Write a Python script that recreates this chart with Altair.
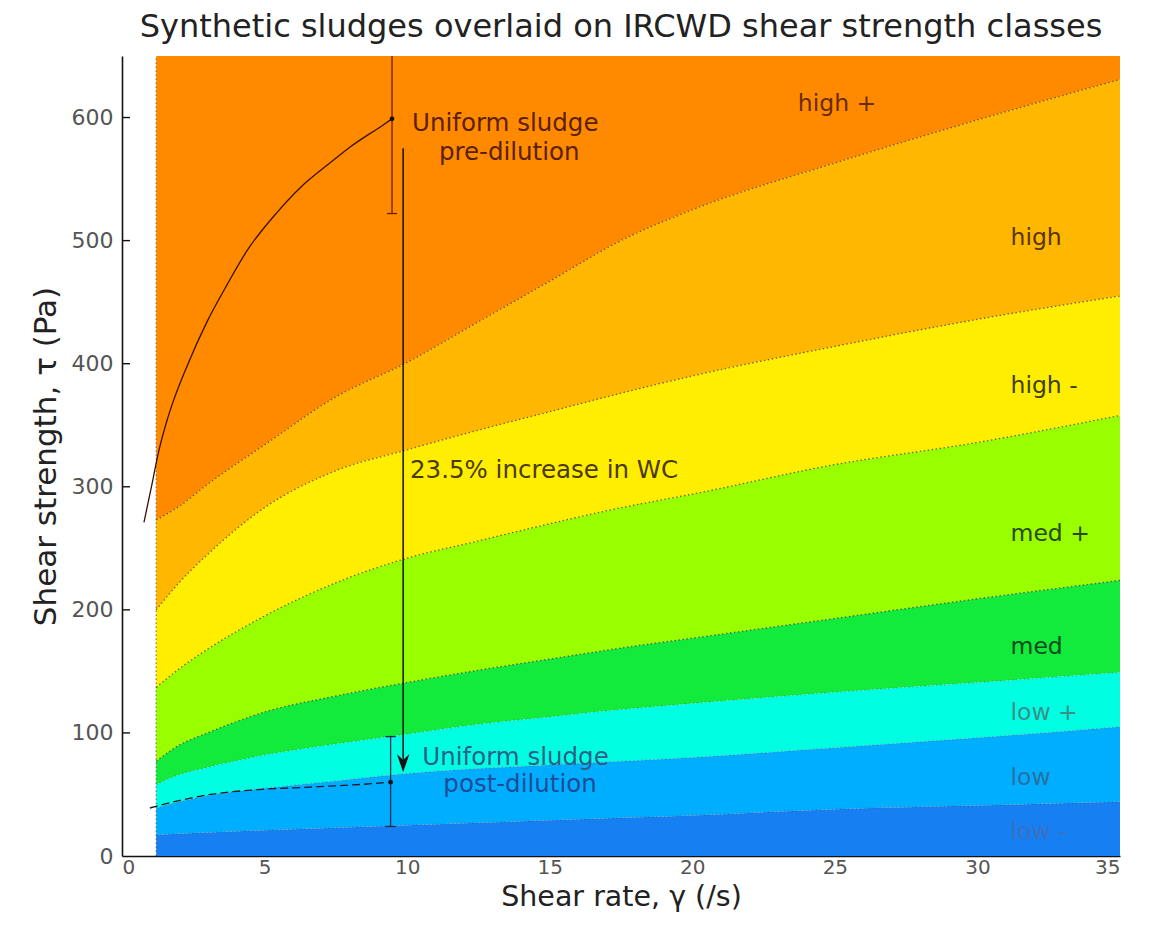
import altair as alt
import pandas as pd

# ---------------- data ----------------
gamma = [1.2, 2, 3, 5, 7.5, 10, 12.5, 15, 17.5, 20, 25, 30, 35]

b_highp_high = [273, 284, 302, 334, 373, 401, 434, 467, 500, 525, 563, 598, 631]
b_high_highm = [200, 222, 245, 283, 313, 330, 346, 361, 376, 390, 414, 436, 455]
b_highm_medp = [137, 152, 168, 195, 222, 242, 256, 270, 283, 294, 318, 336, 358]
b_medp_med = [77, 90, 100, 117, 130, 141, 151, 160, 169, 177, 193, 209, 224]
b_med_lowp = [58, 66, 72, 82, 91, 99, 107, 113, 119, 124, 133, 141, 149]
b_lowp_low = [39, 44, 49, 55, 61, 67, 71, 74, 77, 80, 88, 96, 105]
b_low_lowm = [17, 18, 19, 21, 23, 25, 27, 29, 31, 33, 38, 41, 44]

Y_MAX = 650
classes = ["high +", "high", "high -", "med +", "med", "low +", "low", "low -"]
class_colors = ["#FF8A00", "#FFB700", "#FFEE00", "#99FF00",
                "#12EA3C", "#00FFE2", "#00AEFF", "#1680F3"]

# class labels (right side)
label_x = [23.7, 31.16, 31.16, 31.16, 31.16, 31.16, 31.16, 31.16]
label_y = [611, 502, 382, 262, 170, 116, 63, 19.5]
label_col = ["#6a2a00", "#5a3500", "#404010", "#2a4a10",
             "#0e4a1e", "#3a8f8a", "#2a6fa0", "#3c6fc0"]

# pre-dilution sludge curve
pre_x = [0.77, 1.05, 1.26, 1.58, 1.79, 2.28, 2.98, 3.68, 4.39, 5.44, 6.25, 7.40, 8.0, 9.16, 9.47]
pre_y = [271, 302, 326, 354, 369, 398, 434, 464, 492, 523, 543, 565, 576, 594, 599]

# post-dilution sludge curve
post_x = [0.98, 2.0, 3.1, 4.8, 6.6, 8.9, 9.42]
post_y = [39, 45, 50, 54, 56, 59, 60]

# error bars (pre, post)
err_x = [9.47, 9.42]
err_lo = [522, 24]
err_hi = [650, 97]
err_col = ["#6a2000", "#1a2a50"]
cap_x = [9.47, 9.42, 9.42]
cap_y = [522, 24, 97]
cap_col = ["#6a2000", "#1a2a50", "#1a2a50"]
CAP = 0.18

# arrow
arrow_x = 9.86
arrow_top = 575
arrow_bottom = 78
arrow_head_y = 75.5

# annotations
ann_text = ["Uniform sludge", "pre-dilution", "Uniform sludge", "post-dilution"]
ann_x = [13.44, 13.58, 13.8, 13.96]
ann_y = [595, 571, 80, 58]
ann_col = ["#5a2000", "#5a2000", "#2a5f8a", "#1e4c96"]

wc_text = "23.5% increase in WC"
wc_x = 10.1
wc_y = 313

x_ticks = [0, 5, 10, 15, 20, 25, 30, 35]
y_ticks = [0, 100, 200, 300, 400, 500, 600]

FONT = "DejaVu Sans"

# ---------------- tables ----------------
bounds = [[Y_MAX] * len(gamma), b_highp_high, b_high_highm, b_highm_medp,
          b_medp_med, b_med_lowp, b_lowp_low, b_low_lowm, [0] * len(gamma)]
rows = []
for i, c in enumerate(classes):
    for j, g in enumerate(gamma):
        rows.append({"gamma": g, "hi": bounds[i][j], "lo": bounds[i + 1][j],
                     "cls": c, "k": i})
bands = pd.DataFrame(rows)

brow = []
for i in range(1, 8):
    for j, g in enumerate(gamma):
        brow.append({"gamma": g, "tau": bounds[i][j], "b": i,
                     "op": 0.75 if i <= 4 else 0.3})
bl = pd.DataFrame(brow)

xs = alt.X("gamma:Q", scale=alt.Scale(domain=[0, 35], nice=False, zero=False),
           axis=alt.Axis(values=x_ticks, title="Shear rate, γ (/s)", ticks=False,
                         grid=False, labelFontSize=20, labelColor="#555",
                         labelPadding=1, titleFontSize=28.5, titleFontWeight="normal",
                         titleColor="#222", titleBaseline="middle", titleY=40,
                         domainColor="#111", domainWidth=1.6,
                         labelFont=FONT, titleFont=FONT))
ys = alt.Y("lo:Q", scale=alt.Scale(domain=[0, Y_MAX], nice=False),
           axis=alt.Axis(values=y_ticks, title="Shear strength, τ (Pa)", ticks=False,
                         grid=False, labelFontSize=22, labelColor="#555",
                         labelPadding=9, titleFontSize=31, titleFontWeight="normal",
                         titleColor="#222", titleBaseline="middle", titleX=-76,
                         domainColor="#111", domainWidth=1.6,
                         labelFont=FONT, titleFont=FONT))

area = alt.Chart(bands).mark_area(interpolate="monotone").encode(
    x=xs, y=ys, y2="hi:Q",
    color=alt.Color("cls:N", scale=alt.Scale(domain=classes, range=class_colors), legend=None),
    detail="k:N",
)

blines = alt.Chart(bl).mark_line(interpolate="monotone", strokeDash=[1.5, 2.5],
                                  strokeWidth=1.3, color="#4a3a20").encode(
    x="gamma:Q", y="tau:Q", detail="b:N",
    opacity=alt.Opacity("op:Q", scale=None, legend=None),
)

edge = alt.Chart(pd.DataFrame({"x": [gamma[0]], "y": [0], "y2": [Y_MAX]})).mark_rule(
    strokeDash=[1.5, 2.5], color="#4a3a20", opacity=0.6, strokeWidth=1.3).encode(
    x="x:Q", y="y:Q", y2="y2:Q")

yt = alt.Chart(pd.DataFrame({"y": y_ticks[1:], "x": 0, "x2": 0.28})).mark_rule(
    color="#111", strokeWidth=1.4).encode(x="x:Q", x2="x2:Q", y="y:Q")

pre = alt.Chart(pd.DataFrame({"x": pre_x, "y": pre_y})).mark_line(
    color="#3a1000", strokeWidth=1.3, interpolate="monotone").encode(x="x:Q", y="y:Q")

post = alt.Chart(pd.DataFrame({"x": post_x, "y": post_y})).mark_line(
    color="#1a1a2a", strokeWidth=1.3, strokeDash=[8, 4], interpolate="monotone").encode(
    x="x:Q", y="y:Q")

err_df = pd.DataFrame({"x": err_x, "lo": err_lo, "hi": err_hi, "c": err_col})
err = alt.Chart(err_df).mark_rule(strokeWidth=1.3).encode(
    x="x:Q", y="lo:Q", y2="hi:Q", color=alt.Color("c:N", scale=None))
cap_df = pd.DataFrame({"x": [v - CAP for v in cap_x], "x2": [v + CAP for v in cap_x],
                       "y": cap_y, "c": cap_col})
caps = alt.Chart(cap_df).mark_rule(strokeWidth=1.3).encode(
    x="x:Q", x2="x2:Q", y="y:Q", color=alt.Color("c:N", scale=None))

pts = alt.Chart(pd.DataFrame({"x": [pre_x[-1], post_x[-1]], "y": [pre_y[-1], post_y[-1]]})).mark_point(
    filled=True, size=22, color="#111", opacity=1).encode(x="x:Q", y="y:Q")

arrow = alt.Chart(pd.DataFrame({"x": [arrow_x], "y": [arrow_bottom], "y2": [arrow_top]})).mark_rule(
    color="#111", strokeWidth=1.5).encode(x="x:Q", y="y:Q", y2="y2:Q")
head = alt.Chart(pd.DataFrame({"x": [arrow_x], "y": [arrow_head_y]})).mark_point(
    shape="M-0.7,-1 L0,1 L0.7,-1 L0,-0.35 Z", filled=True, size=324, color="#111",
    opacity=1).encode(x="x:Q", y="y:Q")

lab_df = pd.DataFrame({"x": label_x, "y": label_y, "t": classes, "c": label_col})
labels = alt.Chart(lab_df).mark_text(align="left", baseline="middle", font=FONT,
                                     fontSize=23.5).encode(
    x="x:Q", y="y:Q", text="t:N", color=alt.Color("c:N", scale=None))

ann_df = pd.DataFrame({"x": ann_x, "y": ann_y, "t": ann_text, "c": ann_col})
ann = alt.Chart(ann_df).mark_text(align="center", baseline="middle", font=FONT,
                                  fontSize=24.5).encode(
    x="x:Q", y="y:Q", text="t:N", color=alt.Color("c:N", scale=None))

wc = alt.Chart(pd.DataFrame({"x": [wc_x], "y": [wc_y], "t": [wc_text]})).mark_text(
    align="left", baseline="middle", font=FONT, fontSize=24.5, color="#4a3a00").encode(
    x="x:Q", y="y:Q", text="t:N")

chart = alt.layer(area, blines, edge, yt, pre, post, err, caps, pts, arrow, head,
                  labels, ann, wc).properties(
    width=998, height=800,
    autosize=alt.AutoSizeParams(type="none"),
    padding={"left": 122, "top": 56, "right": 43, "bottom": 71},
    background="white",
    title=alt.TitleParams("Synthetic sludges overlaid on IRCWD shear strength classes",
                          font=FONT, fontSize=32, fontWeight="normal", color="#222",
                          anchor="middle", offset=11),
).configure_view(stroke=None)

chart.save("out.html", embed_options={"renderer": "svg", "actions": False})
